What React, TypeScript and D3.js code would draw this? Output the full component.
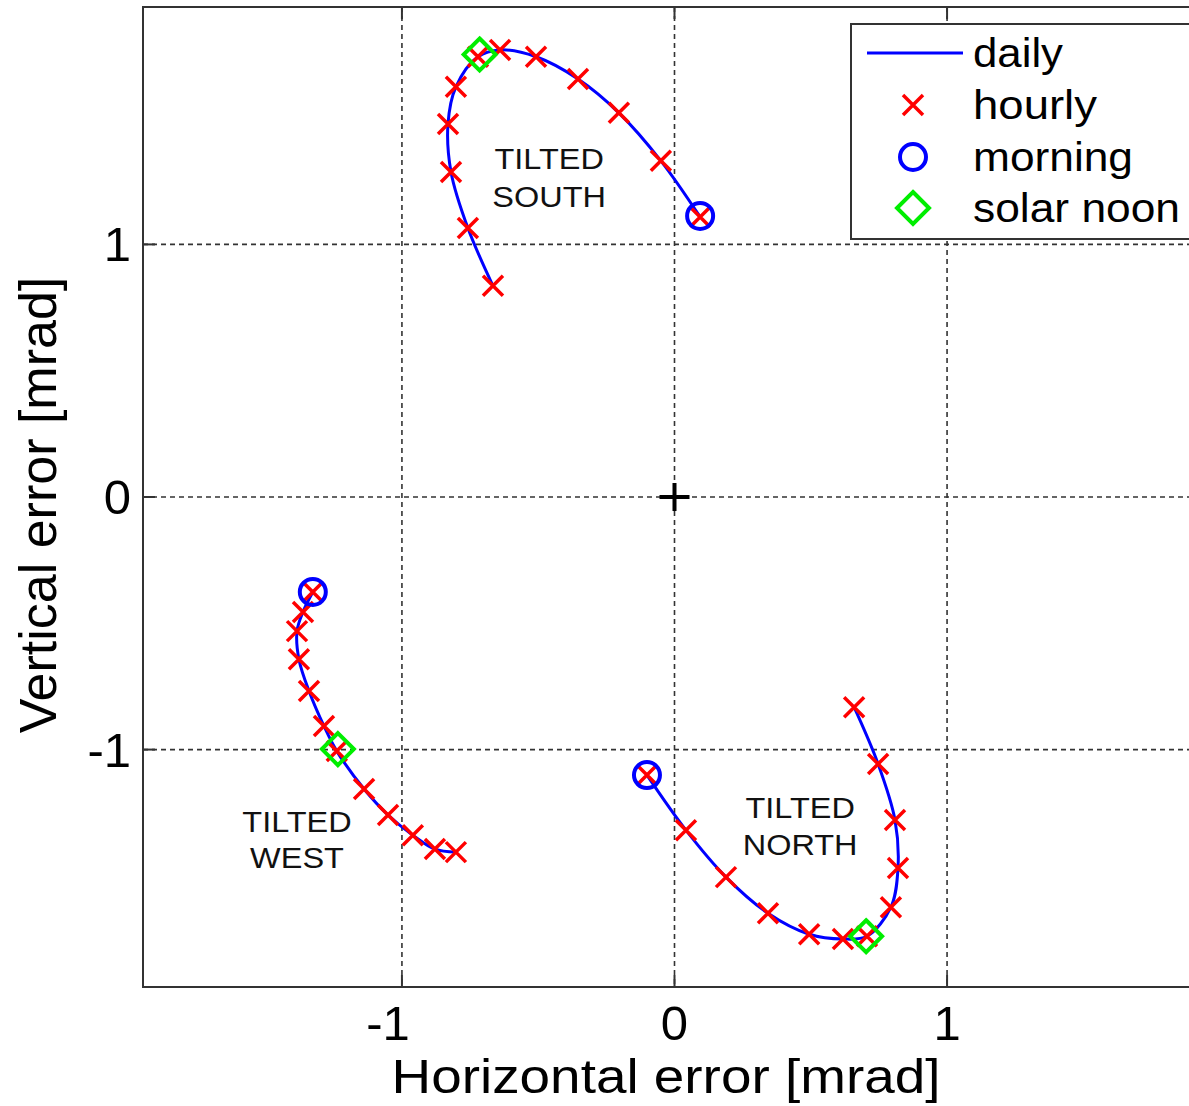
import React from "react";
import * as d3 from "d3";

const W = 1189;
const H = 1106;

// hourly samples of each daily path, in time order starting at the morning point
const southX = [0.094, -0.05, -0.204, -0.354, -0.508, -0.64, -0.721, -0.802, -0.831, -0.82, -0.758, -0.666];
const southY = [1.109, 1.331, 1.521, 1.655, 1.743, 1.77, 1.743, 1.624, 1.477, 1.287, 1.065, 0.836];

const westX = [-1.327, -1.363, -1.385, -1.378, -1.341, -1.286, -1.239, -1.139, -1.051, -0.96, -0.879, -0.802];
const westY = [-0.376, -0.455, -0.531, -0.642, -0.768, -0.907, -1.006, -1.156, -1.259, -1.339, -1.394, -1.406];

const northX = [-0.101, 0.042, 0.189, 0.343, 0.494, 0.618, 0.706, 0.794, 0.82, 0.809, 0.747, 0.659];
const northY = [-1.101, -1.319, -1.505, -1.648, -1.731, -1.75, -1.739, -1.624, -1.469, -1.279, -1.057, -0.832];

const morningX = [0.094, -1.327, -0.101];
const morningY = [1.113, -0.376, -1.101];
const noonX = [-0.715, -1.235, 0.703];
const noonY = [1.752, -0.998, -1.739];

const xTicks = [-1, 0, 1];
const yTicks = [-1, 0, 1];

const notes = [
  { x: -0.46, y: [1.3, 1.149], lines: ["TILTED", "SOUTH"] },
  { x: -1.385, y: [-1.327, -1.469], lines: ["TILTED", "WEST"] },
  { x: 0.461, y: [-1.271, -1.418], lines: ["TILTED", "NORTH"] },
];

const legendLabels = ["daily", "hourly", "morning", "solar noon"];

const RED = "#ff0000";
const BLUE = "#0000ff";
const GREEN = "#00ee00";
const FONT = "Arial, 'Liberation Sans', Helvetica, sans-serif";

function Cross({ cx, cy, r = 10 }: { cx: number; cy: number; r?: number }) {
  return (
    <path
      d={`M${cx - r},${cy - r}L${cx + r},${cy + r}M${cx - r},${cy + r}L${cx + r},${cy - r}`}
      stroke={RED}
      strokeWidth={3.5}
      fill="none"
    />
  );
}

function Diamond({ cx, cy, r = 16 }: { cx: number; cy: number; r?: number }) {
  return (
    <path
      d={`M${cx},${cy - r}L${cx + r},${cy}L${cx},${cy + r}L${cx - r},${cy}Z`}
      stroke={GREEN}
      strokeWidth={4}
      fill="none"
    />
  );
}

export default function App() {
  const x = d3.scaleLinear().domain([-1.95, 1.95]).range([143, 1206]);
  const y = d3.scaleLinear().domain([-1.94, 1.94]).range([987, 7]);

  const line = d3
    .line<[number, number]>()
    .x((d) => x(d[0]))
    .y((d) => y(d[1]))
    .curve(d3.curveCatmullRom.alpha(0.5));

  const series = [
    d3.zip(southX, southY) as [number, number][],
    d3.zip(westX, westY) as [number, number][],
    d3.zip(northX, northY) as [number, number][],
  ];

  const [x0, x1] = x.range();
  const [y0, y1] = y.range(); // y0 bottom, y1 top
  const tick = 12;

  // legend geometry
  const lgLeft = 851;
  const lgTop = 24;
  const lgBottom = 239;
  const rowY = [53, 105, 157, 208];
  const textW = [90, 124, 160, 207];

  return (
    <svg
      width={W}
      height={H}
      style={{ position: "absolute", left: 0, top: 0, background: "#fff" }}
      fontFamily={FONT}
    >
      <rect x={0} y={0} width={W} height={H} fill="#fff" />

      {/* grid */}
      <g stroke="#333" strokeWidth={1.6} strokeDasharray="5,4">
        {xTicks.map((t) => (
          <line key={"gx" + t} x1={x(t)} x2={x(t)} y1={y1} y2={y0} />
        ))}
        {yTicks.map((t) => (
          <line key={"gy" + t} x1={x0} x2={x1} y1={y(t)} y2={y(t)} />
        ))}
      </g>

      {/* ticks inside the box */}
      <g stroke="#333" strokeWidth={2}>
        {xTicks.map((t) => (
          <g key={"tx" + t}>
            <line x1={x(t)} x2={x(t)} y1={y0} y2={y0 - tick} />
            <line x1={x(t)} x2={x(t)} y1={y1} y2={y1 + tick} />
          </g>
        ))}
        {yTicks.map((t) => (
          <g key={"ty" + t}>
            <line x1={x0} x2={x0 + tick} y1={y(t)} y2={y(t)} />
            <line x1={x1} x2={x1 - tick} y1={y(t)} y2={y(t)} />
          </g>
        ))}
      </g>

      {/* data */}
      {series.map((s, i) => (
        <path key={"l" + i} d={line(s) || ""} fill="none" stroke={BLUE} strokeWidth={3} />
      ))}
      {series.map((s, i) =>
        s.map((p, j) => <Cross key={"c" + i + "-" + j} cx={x(p[0])} cy={y(p[1])} />)
      )}
      {morningX.map((mx, i) => (
        <circle key={"m" + i} cx={x(mx)} cy={y(morningY[i])} r={13} fill="none" stroke={BLUE} strokeWidth={4} />
      ))}
      {noonX.map((nx, i) => (
        <Diamond key={"n" + i} cx={x(nx)} cy={y(noonY[i])} />
      ))}

      {/* centre marker */}
      <path
        d={`M${x(0) - 15},${y(0)}L${x(0) + 15},${y(0)}M${x(0)},${y(0) - 14}L${x(0)},${y(0) + 14}`}
        stroke="#000"
        strokeWidth={4}
      />

      {/* annotations */}
      {notes.map((n, i) =>
        n.lines.map((txt, j) => (
          <text
            key={"t" + i + "-" + j}
            transform={`translate(${x(n.x)},${y(n.y[j])}) scale(1.12,1)`}
            textAnchor="middle"
            fontSize={29}
            fill="#111"
          >
            {txt}
          </text>
        ))
      )}

      {/* frame */}
      <rect x={x0} y={y1} width={x1 - x0} height={y0 - y1} fill="none" stroke="#333" strokeWidth={2} />

      {/* tick labels */}
      {xTicks.map((t) => (
        <text key={"xl" + t} x={x(t) + (t < 0 ? -14 : 0)} y={1040} textAnchor="middle" fontSize={49} fill="#000">
          {t < 0 ? "-" + Math.abs(t) : String(t)}
        </text>
      ))}
      {yTicks.map((t) => (
        <text key={"yl" + t} x={131} y={y(t) + 17} textAnchor="end" fontSize={49} fill="#000">
          {t < 0 ? "-" + Math.abs(t) : String(t)}
        </text>
      ))}

      {/* axis titles */}
      <text transform={`translate(666,1093) scale(1.12,1)`} textAnchor="middle" fontSize={49} fill="#000">
        Horizontal error [mrad]
      </text>
      <text transform={`translate(56,505) rotate(-90)`} textAnchor="middle" fontSize={52} fill="#000">
        Vertical error [mrad]
      </text>

      {/* legend */}
      <rect x={lgLeft} y={lgTop} width={400} height={lgBottom - lgTop} fill="#fff" stroke="#333" strokeWidth={2} />
      <line x1={867} x2={963} y1={rowY[0]} y2={rowY[0]} stroke={BLUE} strokeWidth={3} />
      <Cross cx={913} cy={rowY[1]} />
      <circle cx={913} cy={rowY[2]} r={13} fill="none" stroke={BLUE} strokeWidth={4} />
      <Diamond cx={913} cy={rowY[3]} />
      {legendLabels.map((lab, i) => (
        <text
          key={"lg" + i}
          x={973}
          y={rowY[i] + 14}
          fontSize={40}
          textLength={textW[i]}
          lengthAdjust="spacingAndGlyphs"
          fill="#000"
        >
          {lab}
        </text>
      ))}
    </svg>
  );
}
